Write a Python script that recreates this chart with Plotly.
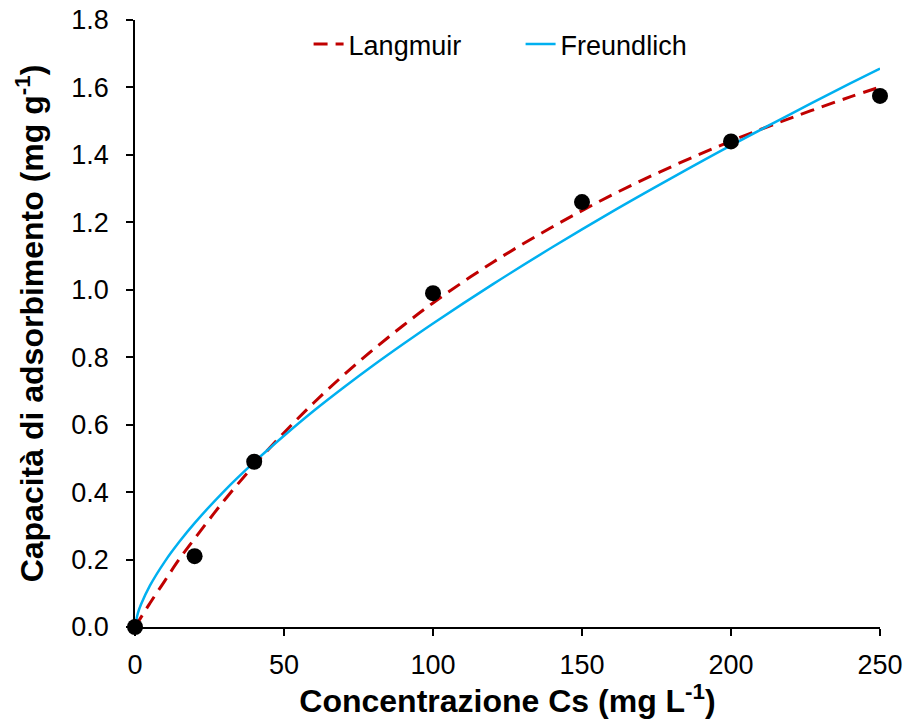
import plotly.graph_objects as go

# Experimental data
conc_obs = [0, 20, 40, 100, 150, 200, 250]
q_obs = [0.0, 0.21, 0.49, 0.99, 1.26, 1.44, 1.575]

# Model curves
conc_fit = [0, 1, 2, 5, 10, 15, 20, 30, 40, 50, 60, 70, 80, 90, 100, 120, 140, 160, 180, 200, 220, 240, 250]
q_langmuir = [0.0, 0.0143, 0.0286, 0.0703, 0.137, 0.203, 0.262, 0.376, 0.480, 0.576, 0.665, 0.747, 0.823,
              0.894, 0.961, 1.081, 1.186, 1.281, 1.365, 1.441, 1.509, 1.572, 1.601]
q_freundlich = [0.0, 0.0419, 0.0665, 0.1225, 0.194, 0.254, 0.308, 0.404, 0.489, 0.567, 0.641, 0.710, 0.776,
                0.839, 0.900, 1.016, 1.126, 1.231, 1.331, 1.428, 1.521, 1.612, 1.656]

x_ticks = [0, 50, 100, 150, 200, 250]
y_ticks = [0.0, 0.2, 0.4, 0.6, 0.8, 1.0, 1.2, 1.4, 1.6, 1.8]

FONT = "Liberation Sans, Arial, sans-serif"

fig = go.Figure()
fig.add_trace(go.Scatter(x=conc_fit, y=q_langmuir, mode="lines", name="Langmuir",
                         line=dict(color="#C00000", width=3, dash="14px,8px", shape="spline")))
fig.add_trace(go.Scatter(x=conc_fit, y=q_freundlich, mode="lines", name="Freundlich",
                         line=dict(color="#00B0F0", width=2.5, shape="spline")))
fig.add_trace(go.Scatter(x=conc_obs, y=q_obs, mode="markers", showlegend=False,
                         marker=dict(color="black", size=16), cliponaxis=False))

fig.update_layout(
    width=905, height=719,
    margin=dict(l=135, r=25, t=20, b=92),
    plot_bgcolor="white", paper_bgcolor="white",
    font=dict(family=FONT, size=27, color="black"),
    legend=dict(orientation="h", x=0.233, xanchor="left", y=1.0, yanchor="top",
                font=dict(size=27), bgcolor="rgba(0,0,0,0)", traceorder="normal",
                itemwidth=30, entrywidth=167),
    showlegend=True,
)
fig.update_xaxes(range=[0, 250], tickvals=x_ticks, showgrid=False, zeroline=False,
                 showline=True, linecolor="black", linewidth=1.5,
                 ticks="outside", ticklen=7, tickcolor="black", tickwidth=1.5,
                 tickfont=dict(size=27), ticklabelstandoff=6, automargin=False,
                 title=dict(text="<b>Concentrazione Cs (mg L<sup>-1</sup>)</b>",
                            font=dict(size=32), standoff=2))
fig.update_yaxes(range=[0, 1.8], tickvals=y_ticks, tickformat=".1f", showgrid=False, zeroline=False,
                 showline=True, linecolor="black", linewidth=1.5,
                 ticks="outside", ticklen=7, tickcolor="black", tickwidth=1.5,
                 tickfont=dict(size=27), ticklabelstandoff=12, automargin=False,
                 title=dict(text="<b>Capacità di adsorbimento (mg g<sup>-1</sup>)</b>",
                            font=dict(size=32), standoff=18))

fig.write_html("out.html")
